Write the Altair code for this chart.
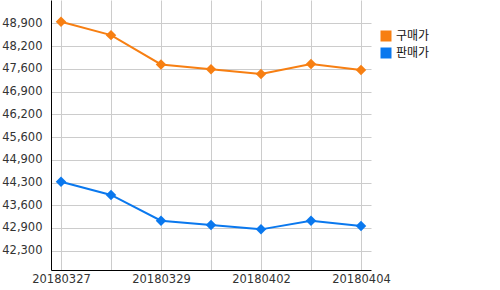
import altair as alt
import pandas as pd

dates = ["20180327", "20180328", "20180329", "20180330", "20180402", "20180403", "20180404"]
buy = [48930, 48540, 47690, 47550, 47410, 47700, 47530]
sell = [44280, 43900, 43150, 43030, 42900, 43150, 43000]
series_names = ["구매가", "판매가"]
series_colors = ["#f77f12", "#0a78ee"]
x_labels_shown = ["20180327", "20180329", "20180402", "20180404"]
y_tick_values = [42280, 42940, 43600, 44260, 44920, 45580, 46240, 46900, 47560, 48220, 48880]
y_tick_labels = ["42,300", "42,900", "43,600", "44,300", "44,900", "45,600",
                 "46,200", "46,900", "47,600", "48,200", "48,900"]

rows = []
for d, v in zip(dates, buy):
    rows.append({"date": d, "series": series_names[0], "value": v})
for d, v in zip(dates, sell):
    rows.append({"date": d, "series": series_names[1], "value": v})
df = pd.DataFrame(rows)

label_map = "{" + ",".join(f"'{v}':'{l}'" for v, l in zip(y_tick_values, y_tick_labels)) + "}"
shown = "[" + ",".join(f"'{s}'" for s in x_labels_shown) + "]"

x = alt.X("date:N", sort=dates, title=None,
          scale=alt.Scale(type="point", padding=0.2),
          axis=alt.Axis(labelExpr=f"indexof({shown}, datum.value) >= 0 ? datum.label : ''",
                        labelAngle=0, ticks=False, grid=True, gridColor="#cccccc",
                        domainColor="#000000", labelPadding=3,
                        labelFont="DejaVu Sans", labelFontSize=11.5, labelColor="#333333"))
y = alt.Y("value:Q", title=None,
          scale=alt.Scale(domain=[41720, 49560], nice=False, zero=False),
          axis=alt.Axis(values=y_tick_values, labelExpr=f"{label_map}[''+datum.value]",
                        ticks=False, grid=True, gridColor="#cccccc",
                        domainColor="#000000", labelPadding=9,
                        labelFont="DejaVu Sans", labelFontSize=11.5, labelColor="#333333"))
color = alt.Color("series:N", sort=series_names,
                  scale=alt.Scale(domain=series_names, range=series_colors),
                  legend=alt.Legend(title=None, orient="none", legendX=329, legendY=30,
                                    symbolType="square", symbolSize=121, symbolStrokeWidth=0,
                                    labelFont="Noto Sans CJK KR", labelFontSize=12,
                                    labelColor="#111111", rowPadding=5, labelOffset=4))

base = alt.Chart(df)
lines = base.mark_line(strokeWidth=2).encode(x=x, y=y, color=color)
points = base.mark_point(shape="diamond", filled=True, size=110, opacity=1).encode(x=x, y=y, color=color)

chart = (lines + points).properties(
    width=320, height=270,
    autosize=alt.AutoSizeParams(type="none"),
    padding={"left": 51, "top": 0, "right": 129, "bottom": 20},
).configure_view(stroke=None)

chart.save("out.html", embed_options={"renderer": "svg", "actions": False})
